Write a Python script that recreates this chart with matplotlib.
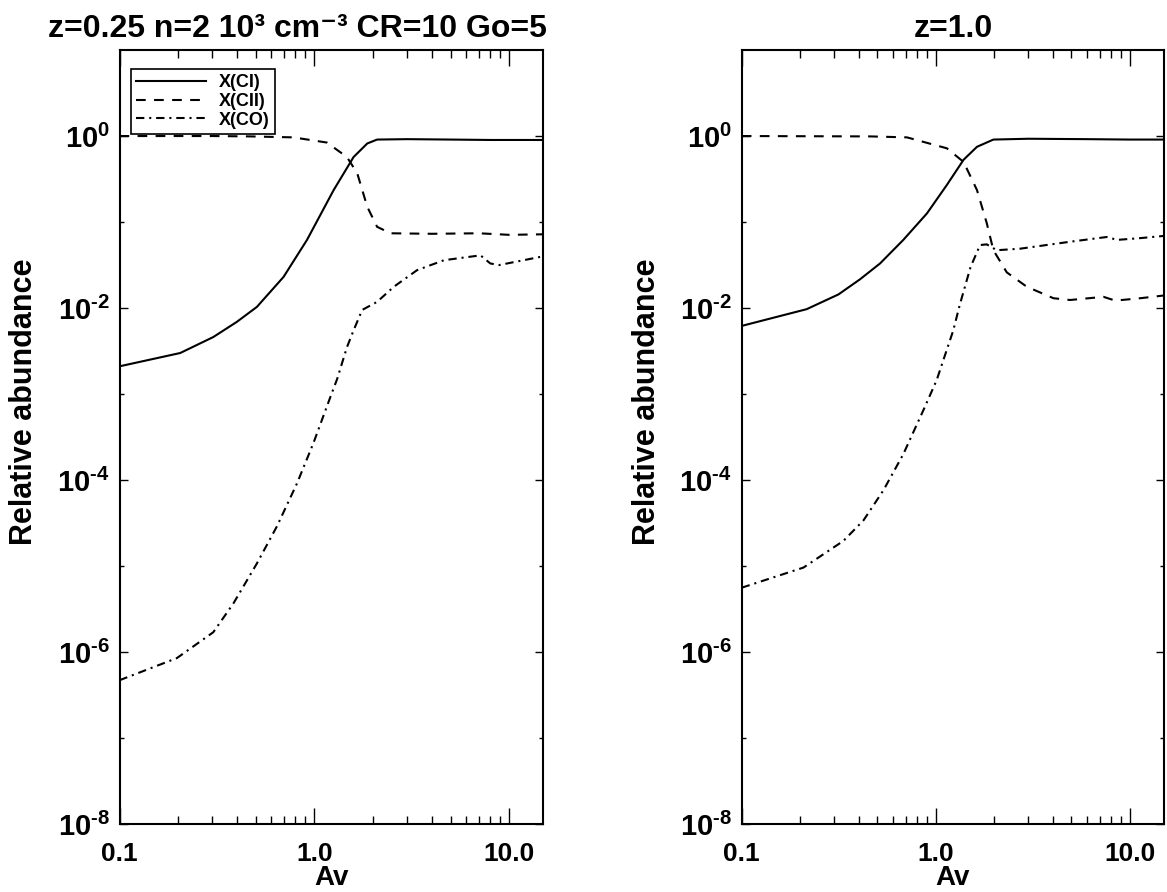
import numpy as np
import matplotlib
matplotlib.use("Agg")
import matplotlib.pyplot as plt
from matplotlib.ticker import FixedLocator, FixedFormatter, LogLocator, NullFormatter

plt.rcParams['font.family'] = ['Liberation Sans', 'DejaVu Sans']
plt.rcParams['font.weight'] = 'bold'
plt.rcParams['mathtext.fontset'] = 'custom'
plt.rcParams['mathtext.rm'] = 'Liberation Sans:bold'
plt.rcParams['mathtext.it'] = 'Liberation Sans:bold'
plt.rcParams['mathtext.bf'] = 'Liberation Sans:bold'
plt.rcParams['lines.scale_dashes'] = False

# --- z=0.25 panel ---
av_ci_a = [0.1, 0.205, 0.303, 0.40, 0.507, 0.695, 0.917, 1.256, 1.59, 1.87, 2.1, 3.0, 5.0, 8.0, 15.0]
ci_a = [2.1e-3, 3.0e-3, 4.6e-3, 6.9e-3, 1.03e-2, 2.3e-2, 6.2e-2, 0.235, 0.57, 0.82, 0.91, 0.92, 0.91, 0.90, 0.90]

av_cii_a = [0.1, 0.3, 0.47, 0.78, 1.16, 1.47, 1.66, 1.87, 2.10, 2.46, 4.0, 7.0, 10.0, 15.0]
cii_a = [1.0, 1.0, 0.99, 0.965, 0.84, 0.57, 0.37, 0.15, 0.088, 0.074, 0.073, 0.074, 0.071, 0.072]

av_co_a = [0.1, 0.197, 0.303, 0.385, 0.507, 0.643, 0.814, 0.99, 1.21, 1.31, 1.47, 1.59, 1.76,
           2.10, 2.56, 3.37, 4.63, 7.13, 8.0, 8.87, 11.5, 15.0]
co_a = [4.7e-7, 8.5e-7, 1.7e-6, 3.7e-6, 1.07e-5, 2.9e-5, 9.1e-5, 2.7e-4, 9.3e-4, 1.5e-3, 3.5e-3,
        5.5e-3, 9.5e-3, 0.0118, 0.0177, 0.0276, 0.036, 0.041, 0.033, 0.0316, 0.0355, 0.040]

# --- z=1.0 panel ---
av_ci_b = [0.1, 0.216, 0.315, 0.407, 0.516, 0.68, 0.90, 1.14, 1.39, 1.63, 1.98, 3.0, 6.0, 10.0, 15.0]
ci_b = [6.2e-3, 9.7e-3, 0.0144, 0.0216, 0.033, 0.062, 0.126, 0.27, 0.53, 0.75, 0.91, 0.93, 0.92, 0.91, 0.91]

av_cii_b = [0.1, 0.46, 0.71, 1.14, 1.39, 1.63, 1.83, 1.98, 2.32, 2.94, 4.04, 4.92, 7.31, 8.4, 11.3, 15.0]
cii_b = [1.0, 0.99, 0.965, 0.72, 0.50, 0.235, 0.097, 0.047, 0.026, 0.0177, 0.0130, 0.0124, 0.0135,
         0.0122, 0.0130, 0.014]

av_co_b = [0.1, 0.208, 0.334, 0.424, 0.537, 0.68, 0.863, 1.01, 1.23, 1.33, 1.51, 1.69, 1.83, 2.06,
           2.72, 4.92, 7.6, 8.6, 11.3, 15.0]
co_b = [5.6e-6, 9.6e-6, 1.96e-5, 3.4e-5, 7.6e-5, 2.0e-4, 6.5e-4, 1.45e-3, 5.5e-3, 1.1e-2, 0.030,
        0.054, 0.055, 0.047, 0.049, 0.059, 0.067, 0.062, 0.065, 0.069]

titles = ["z=0.25 n=2 10\u00b3 cm\u207b\u00b3 CR=10 Go=5", "z=1.0"]
series_labels = ["X(CI)", "X(CII)", "X(CO)"]
xtick_vals = [0.1, 1.0, 10.0]
xtick_labels = ["0.1", "1.0", "10.0"]
ytick_vals = [1e0, 1e-2, 1e-4, 1e-6, 1e-8]
ytick_labels = [r"$10^{0}$", r"$10^{\text{-}2}$", r"$10^{\text{-}4}$", r"$10^{\text{-}6}$", r"$10^{\text{-}8}$"]
yminor_vals = [1e-1, 1e-3, 1e-5, 1e-7]

dash_style = (0, (7, 6))
dashdot_style = (0, (6, 3.5, 1.5, 3.5))

fig = plt.figure(figsize=(11.67, 8.92), dpi=100)
ax1 = fig.add_axes([0.1024, 0.0762, 0.3633, 0.8677])
ax2 = fig.add_axes([0.6356, 0.0762, 0.3619, 0.8677])

panels = [
    (ax1, av_ci_a, ci_a, av_cii_a, cii_a, av_co_a, co_a),
    (ax2, av_ci_b, ci_b, av_cii_b, cii_b, av_co_b, co_b),
]

for i, (ax, x1, y1, x2, y2, x3, y3) in enumerate(panels):
    ax.plot(x1, y1, color='k', lw=1.5, ls='-', label=series_labels[0])
    ax.plot(x2, y2, color='k', lw=1.5, ls=dash_style, label=series_labels[1])
    ax.plot(x3, y3, color='k', lw=1.5, ls=dashdot_style, label=series_labels[2])
    ax.set_xscale('log')
    ax.set_yscale('log')
    ax.set_xlim(0.1, 15.0)
    ax.set_ylim(1e-8, 1e1)

    ax.xaxis.set_major_locator(FixedLocator(xtick_vals))
    ax.xaxis.set_major_formatter(FixedFormatter(xtick_labels))
    ax.xaxis.set_minor_locator(LogLocator(base=10, subs=np.arange(2, 10)))
    ax.xaxis.set_minor_formatter(NullFormatter())
    ax.yaxis.set_major_locator(FixedLocator(ytick_vals))
    ax.yaxis.set_major_formatter(FixedFormatter(ytick_labels))
    ax.yaxis.set_minor_locator(FixedLocator(yminor_vals))
    ax.yaxis.set_minor_formatter(NullFormatter())

    ax.tick_params(which='both', direction='in', top=True, right=True, width=1.0)
    ax.tick_params(axis='x', which='major', length=11.5, pad=13, labelsize=19)
    ax.tick_params(axis='x', which='minor', length=6)
    ax.tick_params(axis='y', which='major', length=5.5, pad=7, labelsize=21)
    ax.tick_params(axis='y', which='minor', length=3)
    for sp in ax.spines.values():
        sp.set_linewidth(1.5)

    ax.set_xlabel("Av", fontsize=20, fontweight='bold', labelpad=-1)
    ax.set_ylabel("Relative abundance", fontsize=22, fontweight='bold')
    ax.yaxis.set_label_coords(-0.19, 0.545)

ax1.text(0.419, 1.017, titles[0], transform=ax1.transAxes, ha='center', va='baseline',
         fontsize=23, fontweight='bold')
ax2.text(0.5, 1.017, titles[1], transform=ax2.transAxes, ha='center', va='baseline',
         fontsize=23, fontweight='bold')

leg = ax1.legend(loc='upper left', bbox_to_anchor=(0.026, 0.976), borderaxespad=0,
                 fontsize=13, handlelength=3.9, handletextpad=0.7, labelspacing=0.1,
                 borderpad=0.3, fancybox=False, framealpha=1, edgecolor='k')
leg.get_frame().set_linewidth(1.2)

fig.savefig("out.png", dpi=100)
